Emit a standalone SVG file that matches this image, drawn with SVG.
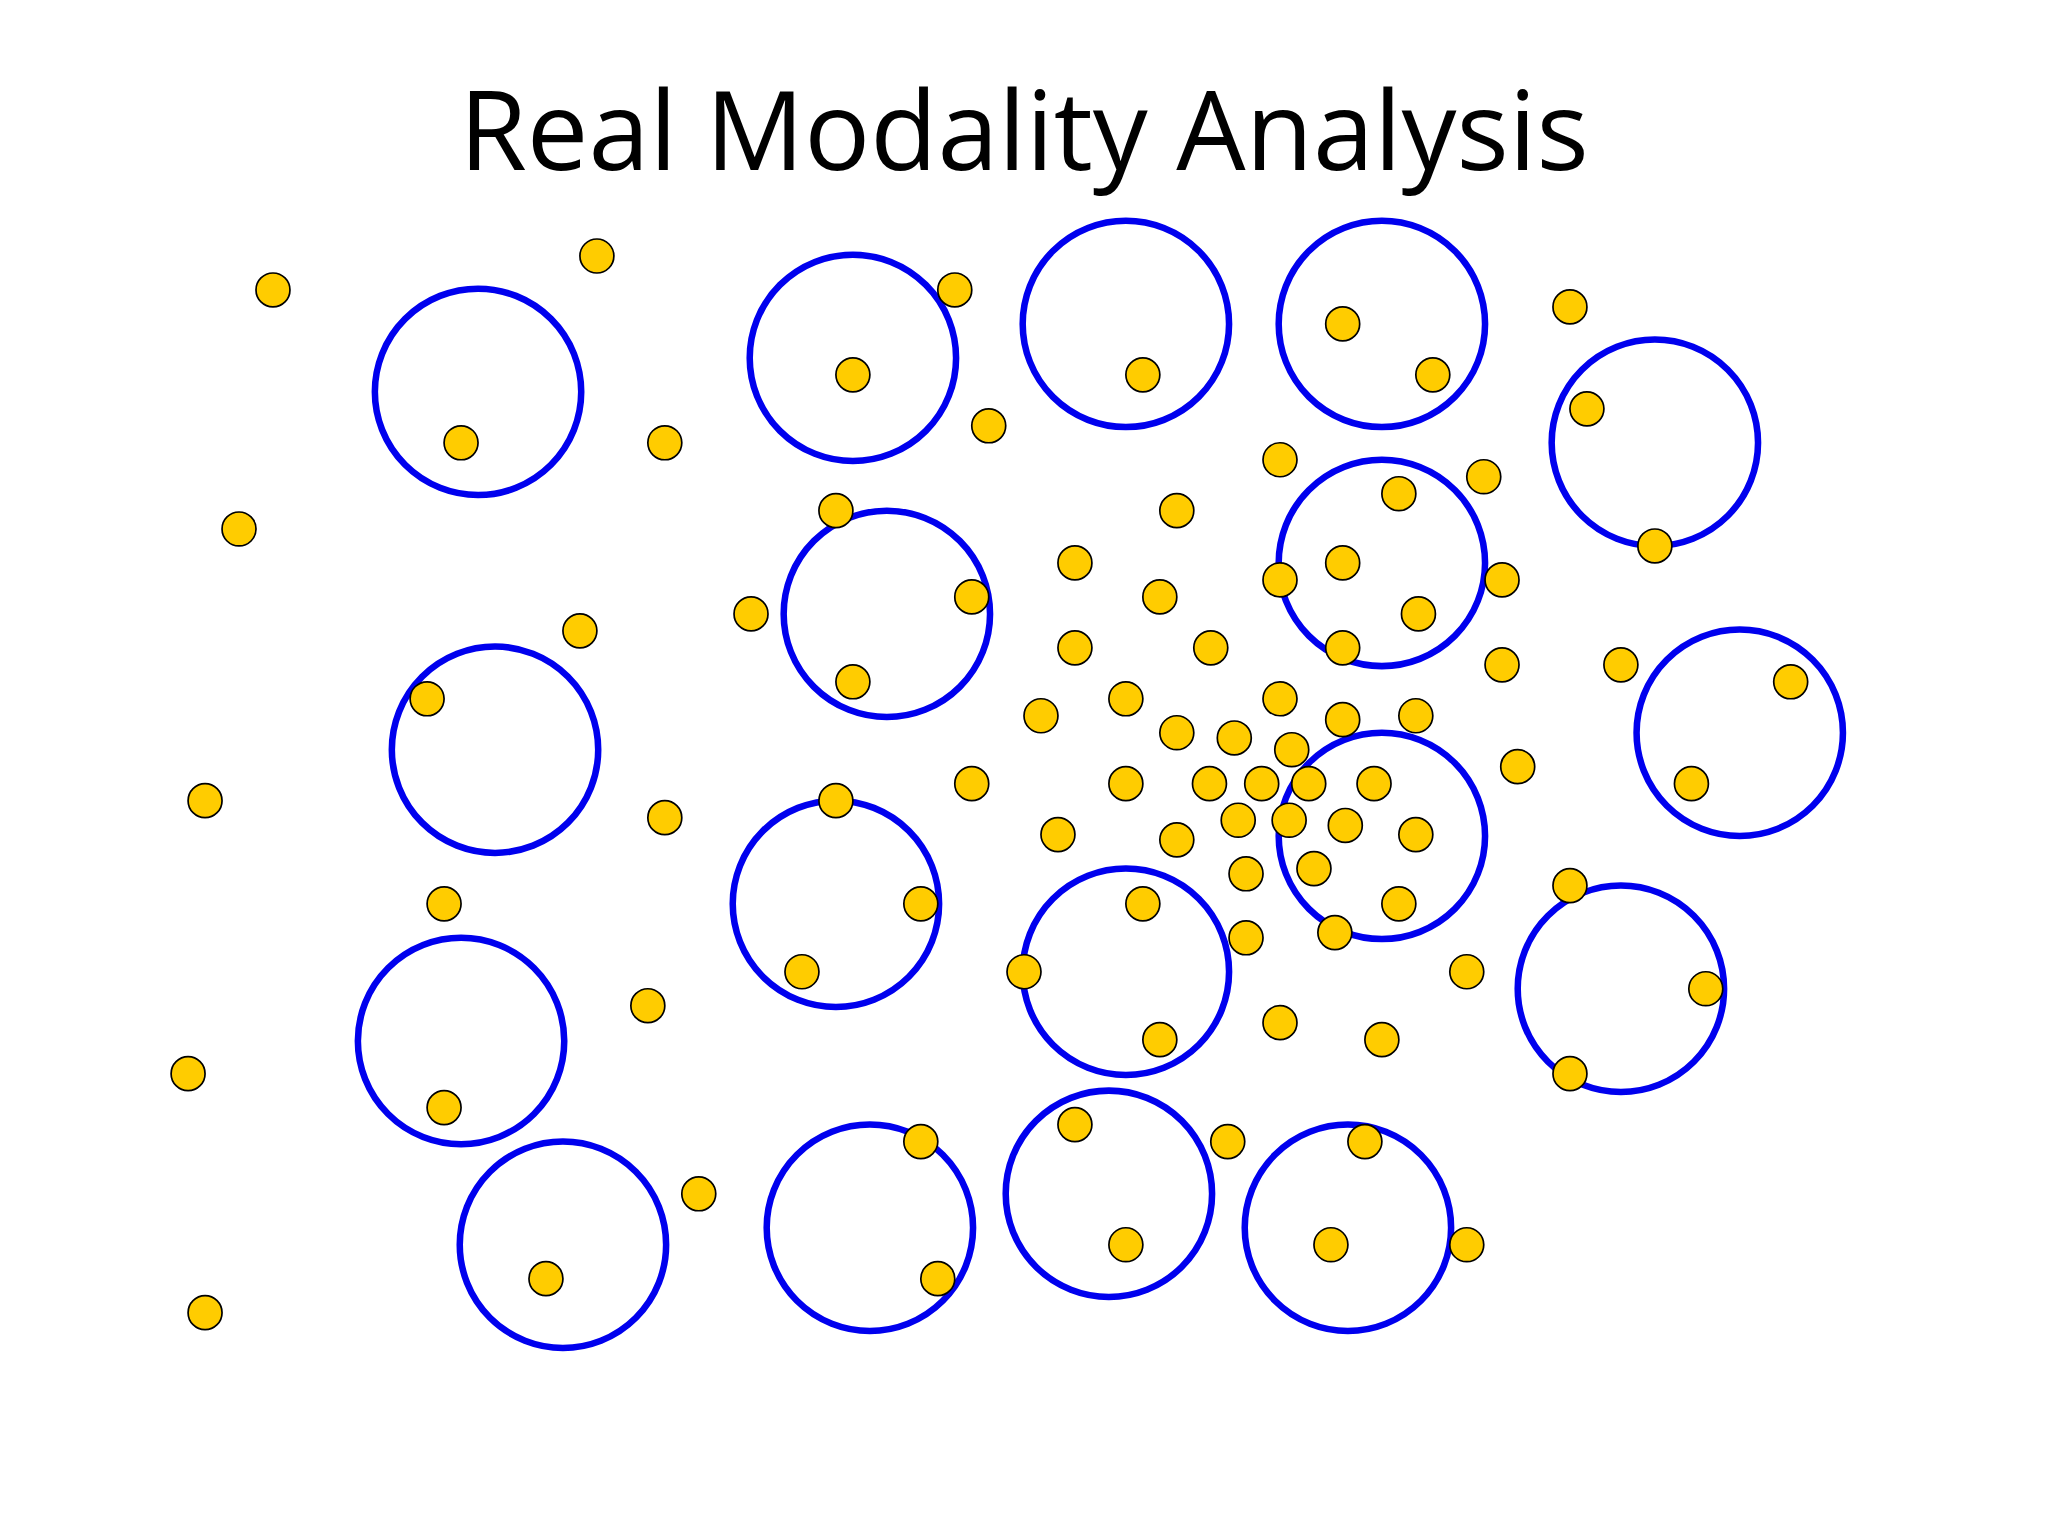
<svg xmlns="http://www.w3.org/2000/svg" width="2048" height="1536" viewBox="0 0 2048 1536">
<style>
.c{fill:none;stroke:#0000EE;stroke-width:5}
.d{fill:#FFCC00;stroke:#000;stroke-width:1.3}
.t{font-family:"Open Sans","Liberation Sans",sans-serif;font-size:84px;fill:#000;text-anchor:middle}
</style>
<rect width="2048" height="1536" fill="#fff"/>
<g transform="scale(1.30612)">
<text class="t" x="784" y="130">Real Modality Analysis</text>
<g id="circles">
<circle class="c" cx="366" cy="300" r="79"/><circle class="c" cx="653" cy="274" r="79"/><circle class="c" cx="862" cy="248" r="79"/><circle class="c" cx="1058" cy="248" r="79"/><circle class="c" cx="1267" cy="339" r="79"/><circle class="c" cx="679" cy="470" r="79"/><circle class="c" cx="1058" cy="431" r="79"/><circle class="c" cx="379" cy="574" r="79"/><circle class="c" cx="1332" cy="561" r="79"/><circle class="c" cx="640" cy="692" r="79"/><circle class="c" cx="1058" cy="640" r="79"/><circle class="c" cx="862" cy="744" r="79"/><circle class="c" cx="353" cy="797" r="79"/><circle class="c" cx="1241" cy="757" r="79"/><circle class="c" cx="431" cy="953" r="79"/><circle class="c" cx="666" cy="940" r="79"/><circle class="c" cx="849" cy="914" r="79"/><circle class="c" cx="1032" cy="940" r="79"/>
</g>
<g id="dots">
<circle class="d" cx="209" cy="222" r="13"/><circle class="d" cx="457" cy="196" r="13"/><circle class="d" cx="353" cy="339" r="13"/><circle class="d" cx="509" cy="339" r="13"/><circle class="d" cx="653" cy="287" r="13"/><circle class="d" cx="731" cy="222" r="13"/><circle class="d" cx="757" cy="326" r="13"/><circle class="d" cx="875" cy="287" r="13"/><circle class="d" cx="1028" cy="248" r="13"/><circle class="d" cx="1097" cy="287" r="13"/><circle class="d" cx="1202" cy="235" r="13"/><circle class="d" cx="1215" cy="313" r="13"/><circle class="d" cx="183" cy="405" r="13"/><circle class="d" cx="640" cy="391" r="13"/><circle class="d" cx="901" cy="391" r="13"/><circle class="d" cx="980" cy="352" r="13"/><circle class="d" cx="1071" cy="378" r="13"/><circle class="d" cx="1136" cy="365" r="13"/><circle class="d" cx="823" cy="431" r="13"/><circle class="d" cx="888" cy="457" r="13"/><circle class="d" cx="980" cy="444" r="13"/><circle class="d" cx="1028" cy="431" r="13"/><circle class="d" cx="1150" cy="444" r="13"/><circle class="d" cx="1267" cy="418" r="13"/><circle class="d" cx="444" cy="483" r="13"/><circle class="d" cx="575" cy="470" r="13"/><circle class="d" cx="744" cy="457" r="13"/><circle class="d" cx="653" cy="522" r="13"/><circle class="d" cx="823" cy="496" r="13"/><circle class="d" cx="927" cy="496" r="13"/><circle class="d" cx="1028" cy="496" r="13"/><circle class="d" cx="1086" cy="470" r="13"/><circle class="d" cx="1150" cy="509" r="13"/><circle class="d" cx="1241" cy="509" r="13"/><circle class="d" cx="1371" cy="522" r="13"/><circle class="d" cx="327" cy="535" r="13"/><circle class="d" cx="797" cy="548" r="13"/><circle class="d" cx="862" cy="535" r="13"/><circle class="d" cx="901" cy="561" r="13"/><circle class="d" cx="945" cy="565" r="13"/><circle class="d" cx="980" cy="535" r="13"/><circle class="d" cx="989" cy="574" r="13"/><circle class="d" cx="1028" cy="551" r="13"/><circle class="d" cx="1084" cy="548" r="13"/><circle class="d" cx="1162" cy="587" r="13"/><circle class="d" cx="157" cy="613" r="13"/><circle class="d" cx="509" cy="626" r="13"/><circle class="d" cx="640" cy="613" r="13"/><circle class="d" cx="744" cy="600" r="13"/><circle class="d" cx="862" cy="600" r="13"/><circle class="d" cx="926" cy="600" r="13"/><circle class="d" cx="966" cy="600" r="13"/><circle class="d" cx="1002" cy="600" r="13"/><circle class="d" cx="1052" cy="600" r="13"/><circle class="d" cx="1295" cy="600" r="13"/><circle class="d" cx="810" cy="639" r="13"/><circle class="d" cx="901" cy="643" r="13"/><circle class="d" cx="948" cy="628" r="13"/><circle class="d" cx="987" cy="628" r="13"/><circle class="d" cx="1030" cy="632" r="13"/><circle class="d" cx="1084" cy="639" r="13"/><circle class="d" cx="340" cy="692" r="13"/><circle class="d" cx="705" cy="692" r="13"/><circle class="d" cx="875" cy="692" r="13"/><circle class="d" cx="954" cy="669" r="13"/><circle class="d" cx="1006" cy="665" r="13"/><circle class="d" cx="1071" cy="692" r="13"/><circle class="d" cx="1202" cy="678" r="13"/><circle class="d" cx="614" cy="744" r="13"/><circle class="d" cx="784" cy="744" r="13"/><circle class="d" cx="954" cy="718" r="13"/><circle class="d" cx="1022" cy="714" r="13"/><circle class="d" cx="1123" cy="744" r="13"/><circle class="d" cx="496" cy="770" r="13"/><circle class="d" cx="888" cy="796" r="13"/><circle class="d" cx="980" cy="783" r="13"/><circle class="d" cx="1058" cy="796" r="13"/><circle class="d" cx="1306" cy="757" r="13"/><circle class="d" cx="144" cy="822" r="13"/><circle class="d" cx="340" cy="848" r="13"/><circle class="d" cx="1202" cy="822" r="13"/><circle class="d" cx="535" cy="914" r="13"/><circle class="d" cx="705" cy="874" r="13"/><circle class="d" cx="823" cy="861" r="13"/><circle class="d" cx="940" cy="874" r="13"/><circle class="d" cx="1045" cy="874" r="13"/><circle class="d" cx="418" cy="979" r="13"/><circle class="d" cx="718" cy="979" r="13"/><circle class="d" cx="862" cy="953" r="13"/><circle class="d" cx="1019" cy="953" r="13"/><circle class="d" cx="1123" cy="953" r="13"/><circle class="d" cx="157" cy="1005" r="13"/>
</g>
</g>
</svg>
